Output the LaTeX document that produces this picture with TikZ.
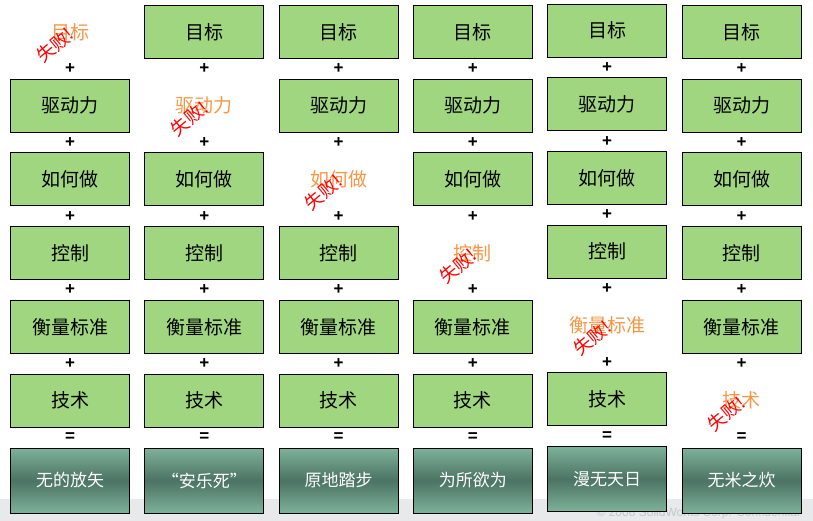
\documentclass[tikz,border=0pt]{standalone}
\usepackage{fontspec}
\setmainfont{Liberation Sans}
\newfontfamily\cjk{Noto Sans CJK SC}
\usetikzlibrary{calc}
\definecolor{itemgreen}{HTML}{A0D680}
\definecolor{lostorange}{HTML}{F79646}
\definecolor{restop}{HTML}{7DB29A}
\definecolor{resmid}{HTML}{4C7363}
\definecolor{footgray}{HTML}{E8E9EB}
\definecolor{foottext}{HTML}{C4C6CA}
\begin{document}
\begin{tikzpicture}[x=1pt,y=-1pt,
    item/.style = {draw, line width=0.8pt, fill=itemgreen, minimum width=119pt, minimum height=53pt, inner sep=0pt, font=\cjk\fontsize{19}{19}\selectfont},
    lost/.style = {item, draw=none, fill=none, text=lostorange},
    fail/.style = {text=red, rotate=40, inner sep=0pt, font=\cjk\fontsize{18}{18}\selectfont},
    result/.style = {draw, line width=0.8pt, top color=restop, bottom color=restop, middle color=resmid, minimum width=119pt, minimum height=65pt, inner sep=0pt, text=white, font=\cjk\fontsize{17}{17}\selectfont},
    sign/.style = {inner sep=0pt, font=\bfseries\fontsize{17}{17}\selectfont}]
\useasboundingbox (0,0) rectangle (813,521);
% footer band of the slide
\fill[footgray] (0,499) rectangle (813,521);
\node[anchor=east, text=foottext, inner sep=0pt, font=\fontsize{12}{12}\selectfont] (foot) at (800,513) {\textcopyright{} 2008 SolidWorks Corp. Confidential};
\foreach \c/\x/\dy/\res in {1/70/0/无的放矢, 2/204.3/0/{“安乐死”}, 3/338.6/0/原地踏步, 4/472.9/0/为所欲为, 5/607.2/-1.5/漫无天日, 6/741.5/0/无米之炊} {
    \foreach \r/\txt in {1/目标, 2/驱动力, 3/如何做, 4/控制, 5/衡量标准, 6/技术} {
        \ifnum\r=\c
            \node[lost] (n\c-\r) at (\x, 32+73.7*\r-73.7+\dy) {\txt};
            \node[fail] (f\c) at ($(n\c-\r)+(-15,13)$) {失败!};
        \else
            \node[item] (n\c-\r) at (\x, 32+73.7*\r-73.7+\dy) {\txt};
        \fi
    }
    \node[result] (res\c) at (\x, 480.5+\dy) {\res};
    % plus signs between the items, equals before the result
    \foreach \r [evaluate=\r as \s using int(\r+1)] in {1,...,5}
        \node[sign] (p\c-\r) at ($(n\c-\r.south)!0.5!(n\c-\s.north)$) {+};
    \node[sign] (e\c) at ($(n\c-6.south)!0.5!(res\c.north)$) {=};
}
\end{tikzpicture}
\end{document}
